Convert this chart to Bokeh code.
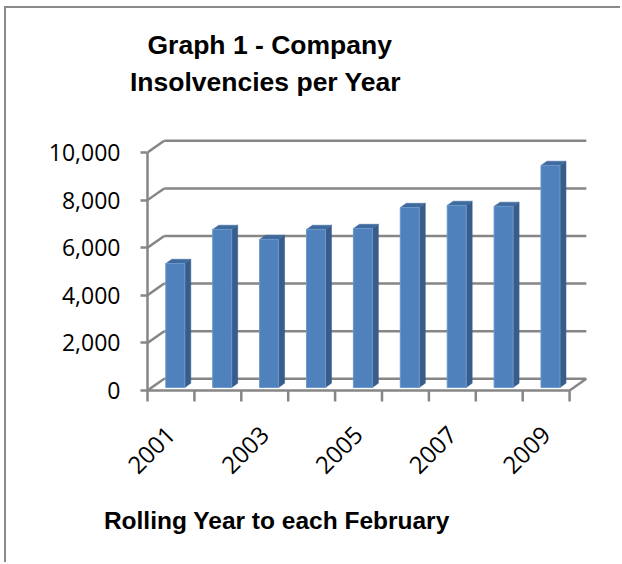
import math
from bokeh.plotting import figure
from bokeh.models import FixedTicker, NumeralTickFormatter, Range1d, Title
from bokeh.embed import file_html
from bokeh.resources import INLINE

# ---------------- data ----------------
years = [2001, 2002, 2003, 2004, 2005, 2006, 2007, 2008, 2009]
insolvencies = [5210, 6640, 6220, 6640, 6680, 7560, 7650, 7610, 9330]
y_ticks = [0, 2000, 4000, 6000, 8000, 10000]
label_every = 2
title_lines = ["Graph 1 - Company", "Insolvencies  per  Year"]
x_title = "Rolling Year to each February"

# ---------------- layout / style (page pixels) ----------------
OX, OY = 6, 8                            # chart box origin on the page (inside border)
W, H = 622 - OX, 564 - OY
FL, FR, FT, FB = 147, 600, 101, 405      # frame edges (page px)
ZERO_PX = 390                            # page row of value 0 on front face
PX_CAT = 46.9                            # px per category
PX_UNIT = 0.0238                         # px per value unit
DEPTH = (16.7, 11.7)                     # 3-D depth offset (px)
BAR_W, BAR_F0, BAR_D = 0.405, 0.26, 0.36
GRID = "#868686"
FRONT, SIDE, TOP = "#4F81BD", "#385D8A", "#3F6A9E"
TICK_FONT = "Open Sans"
TITLE_FONT = "Liberation Sans"

n = len(years)
dx = DEPTH[0] / PX_CAT
dy = DEPTH[1] / PX_UNIT
tick_drop = 11 / PX_UNIT

x_range = Range1d(0, (FR - FL) / PX_CAT)
y_range = Range1d(-(FB - ZERO_PX) / PX_UNIT, (ZERO_PX - FT) / PX_UNIT)

p = figure(width=W, height=H, x_range=x_range, y_range=y_range,
           output_backend="svg", toolbar_location=None, title=None,
           min_border_left=FL - OX, min_border_right=622 - FR,
           min_border_top=FT - OY, min_border_bottom=564 - FB)
p.styles = {"border-left": "2px solid #8a8a8a", "border-top": "2px solid #8a8a8a",
            "margin-left": f"{OX - 2}px", "margin-top": f"{OY - 2}px"}
p.outline_line_color = None
p.xgrid.grid_line_color = None
p.ygrid.grid_line_color = None
p.background_fill_color = "white"
p.border_fill_color = "white"

# back wall gridlines + left diagonals
top_val = max(y_ticks)
p.segment(x0=[dx] * len(y_ticks), y0=[t + dy for t in y_ticks],
          x1=[n + dx] * len(y_ticks), y1=[t + dy for t in y_ticks],
          line_color=GRID, line_width=2.5)
p.segment(x0=[0] * len(y_ticks), y0=y_ticks,
          x1=[dx] * len(y_ticks), y1=[t + dy for t in y_ticks],
          line_color=GRID, line_width=2.5)
# floor front edge + right diagonal
p.segment(x0=[0, n], y0=[0, 0], x1=[n, n + dx], y1=[0, dy],
          line_color=GRID, line_width=2.5)
# category boundary ticks below floor
p.segment(x0=list(range(1, n + 1)), y0=[0] * n,
          x1=list(range(1, n + 1)), y1=[-tick_drop] * n,
          line_color=GRID, line_width=2.5)

# 3-D bars
lefts = [i + 0.5 - BAR_W / 2 + BAR_F0 * dx for i in range(n)]
rights = [l + BAR_W for l in lefts]
base = BAR_F0 * dy
tops = [v + base for v in insolvencies]
ddx, ddy = BAR_D * dx, BAR_D * dy
side_xs = [[r, r + ddx, r + ddx, r] for r in rights]
side_ys = [[base, base + ddy, t + ddy, t] for t in tops]
top_xs = [[l, r, r + ddx, l + ddx] for l, r in zip(lefts, rights)]
top_ys = [[t, t, t + ddy, t + ddy] for t in tops]
p.patches(side_xs, side_ys, fill_color=SIDE, line_color=SIDE, line_width=0.5)
p.patches(top_xs, top_ys, fill_color=TOP, line_color=TOP, line_width=0.5)
p.quad(left=lefts, right=rights, bottom=[base] * n, top=tops,
       fill_color=FRONT, line_color="#6C97CC", line_width=1)

# y axis
ya = p.yaxis[0]
ya.ticker = FixedTicker(ticks=y_ticks)
ya.formatter = NumeralTickFormatter(format="0,0")
ya.bounds = (-tick_drop, top_val)
ya.axis_line_color = GRID
ya.axis_line_width = 2.5
ya.major_tick_line_color = GRID
ya.major_tick_line_width = 2.5
ya.major_tick_out = 7
ya.major_tick_in = 0
ya.minor_tick_line_color = None
ya.major_label_standoff = 20
ya.major_label_text_font = TICK_FONT
ya.major_label_text_font_size = "23px"
ya.major_label_text_color = "black"

# x axis (labels only)
xa = p.xaxis[0]
label_pos = [i + 0.5 for i in range(0, n, label_every)]
xa.ticker = FixedTicker(ticks=label_pos)
xa.major_label_overrides = {i + 0.5: str(years[i]) for i in range(0, n, label_every)}
xa.axis_line_color = None
xa.major_tick_line_color = None
xa.minor_tick_line_color = None
xa.major_tick_out = 0
xa.major_tick_in = 0
xa.major_label_orientation = math.pi / 4
xa.major_label_standoff = 25
xa.major_label_text_font = TICK_FONT
xa.major_label_text_font_size = "24px"
xa.major_label_text_color = "black"

# titles
def title(text, size, offset, standoff):
    return Title(text=text, align="left", offset=offset, standoff=standoff,
                 text_font=TITLE_FONT, text_font_style="bold",
                 text_font_size=size, text_color="black")

p.add_layout(title(title_lines[1], "26.5px", 129.5 - FL, 10), "above")
p.add_layout(title(title_lines[0], "26.5px", 147 - FL, 0), "above")
p.add_layout(title(x_title, "24.5px", 103.4 - FL, 40), "below")

open("out.html", "w").write(file_html(p, INLINE))
